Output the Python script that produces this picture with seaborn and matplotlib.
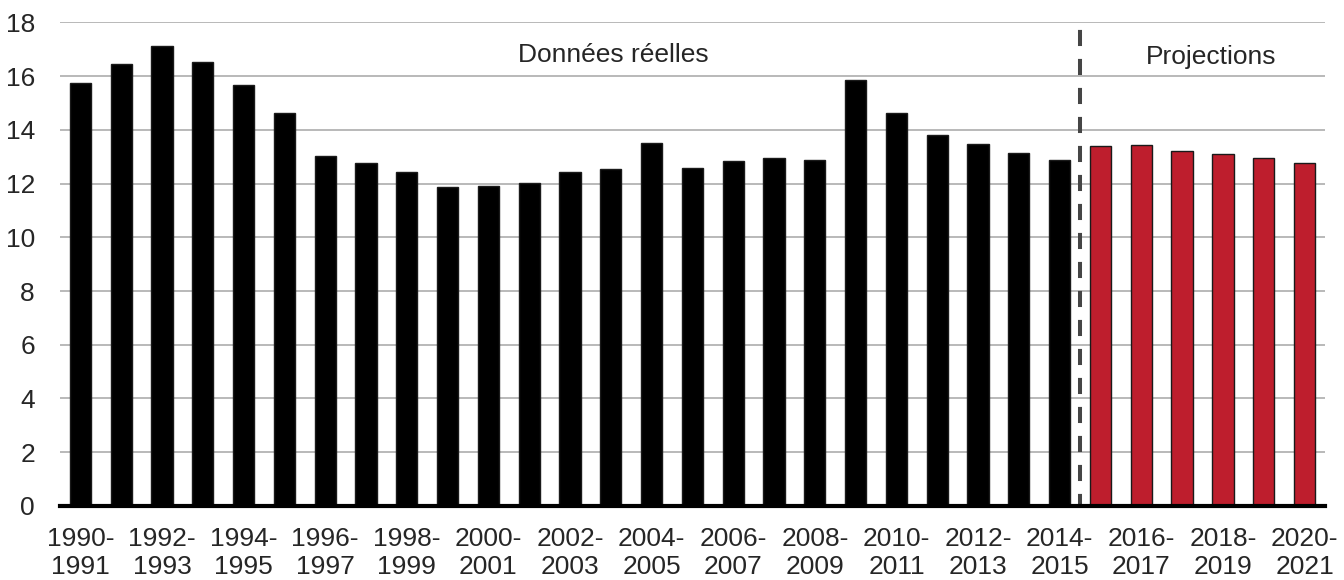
import matplotlib
matplotlib.use("Agg")
import matplotlib.pyplot as plt
import seaborn as sns
import pandas as pd

# fiscal years 1990-1991 .. 2020-2021
years = [f"{y}-{y + 1}" for y in range(1990, 2021)]
actual = [15.73, 16.45, 17.13, 16.51, 15.68, 14.63, 13.04, 12.75, 12.43, 11.86,
          11.90, 12.01, 12.43, 12.55, 13.50, 12.58, 12.83, 12.96, 12.89, 15.86,
          14.63, 13.81, 13.47, 13.13, 12.87]
projected = [13.39, 13.45, 13.20, 13.11, 12.94, 12.78]

df = pd.DataFrame({
    'Year': years,
    'Value': actual + projected,
    'Period': ['Données réelles'] * len(actual) + ['Projections'] * len(projected),
})

sns.set_style("white")
plt.rcParams['font.family'] = ['Liberation Sans', 'DejaVu Sans']

fig = plt.figure(figsize=(13.44, 5.8), dpi=100)
ax = fig.add_axes([0.0446, 0.1276, 0.9412, 0.8340])

sns.barplot(data=df, x='Year', y='Value', hue='Period', dodge=False,
            palette={'Données réelles': '#000000', 'Projections': '#BE1E2D'},
            saturation=1, width=0.52, edgecolor='#1a1a1a', linewidth=1,
            ax=ax, zorder=3)
ax.legend_.remove()

ax.set_ylim(0, 18)
ax.set_xlim(-0.5, len(years) - 0.5)
ax.set_yticks(range(0, 19, 2))
ax.yaxis.grid(True, color='#A6A6A6', linewidth=1.1, zorder=0)
ax.set_axisbelow(True)

tick_pos = list(range(0, len(years), 2))
ax.set_xticks(tick_pos)
ax.set_xticklabels([years[i].replace('-', '-\n') for i in tick_pos],
                   fontsize=19, linespacing=1.2)
ax.tick_params(axis='x', length=0, pad=15)
ax.tick_params(axis='y', length=0, pad=18, labelsize=19)
ax.set_xlabel('')
ax.set_ylabel('')

for side in ['top', 'right', 'left']:
    ax.spines[side].set_visible(False)
ax.spines['bottom'].set_color('black')
ax.spines['bottom'].set_linewidth(3)
ax.spines['bottom'].set_zorder(5)

# boundary between actual data and projections
ax.axvline(len(actual) - 0.5, color='#454545', linewidth=2.9,
           linestyle=(1, (4, 3.2)), zorder=4)

ax.text(13.06, 16.8, 'Données réelles', ha='center', va='center', fontsize=19)
ax.text(27.7, 16.7, 'Projections', ha='center', va='center', fontsize=19)

plt.savefig('out.png', dpi=100)
